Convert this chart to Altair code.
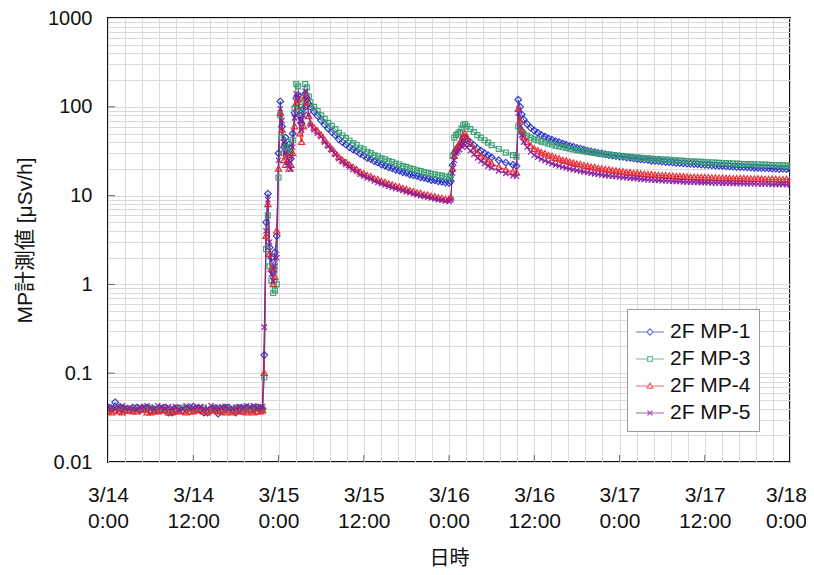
import altair as alt
import pandas as pd

series_names = ["2F MP-1", "2F MP-3", "2F MP-4", "2F MP-5"]
series_colors = ["#2a36c4", "#3a9e74", "#e8262c", "#8a1e9e"]

# hours after 3/14 0:00
hours = [
    0, 0.5, 1, 1.5, 2, 2.5, 3, 3.5, 4, 4.5, 5,
    5.5, 6, 6.5, 7, 7.5, 8, 8.5, 9, 9.5, 10, 10.5,
    11, 11.5, 12, 12.5, 13, 13.5, 14, 14.5, 15, 15.5, 16,
    16.5, 17, 17.5, 18, 18.5, 19, 19.5, 20, 20.5, 21, 21.5,
    21.75,
    22.0, 22.25, 22.5, 22.75, 23.0, 23.25, 23.5, 23.75, 24.0, 24.25, 24.5, 24.75, 25.0,
    25.25, 25.5, 25.75, 26.0, 26.25, 26.5, 26.75, 27.0, 27.25, 27.5, 27.75, 28.0, 28.25,
    28.5, 29.0, 29.5, 30.0, 30.5, 31.0, 31.5, 32.0, 32.5, 33.0, 33.5, 34.0,
    34.5, 35, 35.5, 36, 36.5, 37, 37.5, 38, 38.5, 39, 39.5, 40, 40.5, 41,
    41.5, 42, 42.5, 43, 43.5, 44, 44.5, 45, 45.5, 46, 46.5, 47, 47.5, 48,
    48.25, 48.5, 48.75, 49.0, 49.25, 49.5, 49.75, 50.0, 50.25, 50.5, 51, 51.5, 52, 52.5,
    53, 53.5, 54, 55, 56, 57, 57.5,
    57.75, 58.0, 58.25, 58.5, 59, 59.5, 60,
    60.5, 61, 61.5, 62, 62.5, 63, 63.5, 64, 64.5, 65, 65.5, 66, 66.5, 67, 67.5, 68, 68.5, 69,
    69.5, 70, 70.5, 71, 71.5, 72, 72.5, 73, 73.5, 74, 74.5, 75, 75.5, 76, 76.5, 77, 77.5, 78,
    78.5, 79, 79.5, 80, 80.5, 81, 81.5, 82, 82.5, 83, 83.5, 84, 84.5, 85, 85.5, 86, 86.5, 87,
    87.5, 88, 88.5, 89, 89.5, 90, 90.5, 91, 91.5, 92, 92.5, 93, 93.5, 94, 94.5, 95, 95.5, 96,
]

mp1 = [
    0.041, 0.040, 0.047, 0.041, 0.040, 0.039, 0.039, 0.041, 0.041, 0.038, 0.040,
    0.041, 0.038, 0.039, 0.039, 0.040, 0.041, 0.036, 0.036, 0.040, 0.040, 0.038,
    0.039, 0.041, 0.042, 0.040, 0.038, 0.036, 0.036, 0.039, 0.040, 0.035, 0.039,
    0.041, 0.041, 0.038, 0.036, 0.040, 0.040, 0.041, 0.039, 0.040, 0.041, 0.039,
    0.040,
    0.16, 5.0, 10.5, 2.6, 2.0, 1.4, 2.3, 3.5, 30, 115, 60, 35, 45,
    30, 38, 26, 50, 85, 125, 135, 80, 65, 95, 140, 125, 108,
    100, 88, 79, 70, 63, 57, 52, 48, 43, 40, 37.5, 35,
    33.0, 31.8, 29.6, 28.2, 26.5, 25.7, 24.3, 23.5, 22.4, 21.7, 20.8, 20.3, 19.5, 19.1,
    18.3, 18.0, 17.3, 16.9, 16.6, 16.1, 15.8, 15.4, 15.0, 14.9, 14.5, 14.3, 14.0, 13.9,
    14.5, 22, 30, 32, 35, 36, 40, 44, 45, 43, 40, 37, 34, 32,
    30, 28.5, 27, 25, 23.5, 22.2, 21.5,
    120, 100, 82, 72, 64, 58, 54,
    51.0, 48.0, 46.2, 44.0, 42.6, 41.0, 39.9, 38.5, 37.4, 36.2, 35.4, 34.4, 33.7, 32.8, 32.1, 31.4, 30.9, 30.2,
    29.8, 29.2, 28.6, 28.3, 27.9, 27.5, 27.3, 26.8, 26.6, 26.2, 25.8, 25.6, 25.4, 25.1, 24.7, 24.6, 24.5, 24.2,
    23.9, 23.8, 23.7, 23.4, 23.2, 23.1, 22.9, 22.8, 22.7, 22.5, 22.3, 22.2, 22.1, 21.9, 21.8, 21.7, 21.6, 21.4,
    21.3, 21.2, 21.0, 21.0, 20.9, 20.8, 20.7, 20.6, 20.5, 20.4, 20.4, 20.3, 20.1, 20.1, 19.9, 20.0, 19.9, 19.8,
]

mp3 = [
    0.039, 0.040, 0.040, 0.041, 0.041, 0.039, 0.038, 0.040, 0.040, 0.039, 0.039,
    0.040, 0.041, 0.039, 0.039, 0.040, 0.040, 0.038, 0.038, 0.040, 0.039, 0.041,
    0.040, 0.040, 0.039, 0.040, 0.040, 0.041, 0.038, 0.039, 0.041, 0.040, 0.039,
    0.040, 0.040, 0.038, 0.041, 0.041, 0.039, 0.040, 0.040, 0.041, 0.040, 0.040,
    0.039,
    0.09, 2.5, 6.0, 1.6, 1.1, 0.8, 0.85, 1.0, 16, 80, 45, 30, 35,
    40, 32, 30, 42, 95, 180, 170, 100, 85, 125, 180, 165, 130,
    112, 100, 90, 80, 73, 66, 61, 56, 51, 47.5, 44.5, 41.5,
    39.0, 37.3, 34.6, 33.2, 31.2, 30.1, 28.4, 27.6, 26.2, 25.6, 24.5, 23.9, 22.9, 22.4,
    21.5, 21.1, 20.3, 19.9, 19.2, 18.9, 18.3, 18.0, 17.6, 17.3, 16.9, 16.8, 16.4, 16.2,
    17, 28, 45, 48, 50, 52, 57, 62, 64, 60, 56, 52, 48, 45,
    42, 39.5, 37, 33.5, 30.5, 28.5, 27.5,
    60, 55, 52, 50, 47, 45, 43,
    41.9, 40.5, 39.6, 38.5, 37.6, 36.5, 35.9, 35.0, 34.4, 33.7, 33.2, 32.5, 32.1, 31.5, 31.1, 30.6, 30.3, 29.8,
    29.5, 29.1, 28.9, 28.5, 28.3, 28.0, 27.8, 27.5, 27.3, 27.0, 26.9, 26.6, 26.5, 26.2, 26.1, 25.8, 25.7, 25.5,
    25.4, 25.2, 25.1, 24.9, 24.8, 24.6, 24.5, 24.3, 24.2, 24.1, 24.0, 23.8, 23.7, 23.6, 23.5, 23.4, 23.3, 23.2,
    23.1, 23.0, 22.9, 22.8, 22.7, 22.6, 22.6, 22.5, 22.4, 22.3, 22.3, 22.2, 22.1, 22.0, 22.0, 21.9, 21.8, 21.7,
]

mp4 = [
    0.037, 0.036, 0.038, 0.037, 0.036, 0.038, 0.038, 0.037, 0.037, 0.039, 0.039,
    0.036, 0.036, 0.037, 0.037, 0.038, 0.038, 0.036, 0.036, 0.037, 0.037, 0.038,
    0.036, 0.037, 0.037, 0.038, 0.039, 0.037, 0.036, 0.038, 0.038, 0.037, 0.037,
    0.036, 0.038, 0.036, 0.038, 0.037, 0.037, 0.036, 0.038, 0.036, 0.037, 0.037,
    0.038,
    0.10, 3.5, 8.0, 2.2, 1.5, 1.0, 1.2, 4.0, 20, 85, 55, 25, 22,
    28, 20, 22, 30, 60, 110, 120, 50, 40, 60, 130, 110, 78,
    65, 58, 53, 48, 42, 37, 33.5, 30, 27, 25, 23.5, 22,
    20.8, 19.6, 18.3, 17.6, 16.8, 16.3, 15.5, 15.1, 14.4, 14.1, 13.5, 13.2, 12.7, 12.5,
    12.0, 11.7, 11.3, 11.1, 10.7, 10.6, 10.2, 10.1, 9.8, 9.7, 9.4, 9.3, 9.1, 9.0,
    9.5, 20, 28, 33, 36, 38, 42, 47, 50, 45, 38, 33, 30, 27.5,
    25.5, 24, 23, 21, 19.5, 18.5, 18,
    95, 70, 55, 46, 40, 36, 33.5,
    32.0, 30.5, 29.6, 28.3, 27.6, 26.5, 26.0, 25.0, 24.5, 23.7, 23.3, 22.6, 22.3, 21.7, 21.4, 20.9, 20.7, 20.2,
    20.0, 19.6, 19.5, 19.1, 18.9, 18.6, 18.5, 18.2, 18.1, 17.8, 17.8, 17.5, 17.4, 17.2, 17.2, 17.0, 16.9, 16.8,
    16.8, 16.6, 16.5, 16.4, 16.4, 16.3, 16.2, 16.1, 16.1, 16.0, 16.0, 15.9, 15.9, 15.8, 15.8, 15.7, 15.7, 15.6,
    15.6, 15.5, 15.5, 15.5, 15.5, 15.4, 15.3, 15.3, 15.4, 15.3, 15.2, 15.2, 15.3, 15.2, 15.1, 15.1, 15.2, 15.1,
]

mp5 = [
    0.042, 0.041, 0.040, 0.042, 0.043, 0.041, 0.041, 0.040, 0.039, 0.042, 0.042,
    0.043, 0.041, 0.040, 0.043, 0.042, 0.040, 0.042, 0.041, 0.042, 0.039, 0.040,
    0.043, 0.041, 0.041, 0.042, 0.042, 0.040, 0.040, 0.043, 0.041, 0.041, 0.042,
    0.042, 0.040, 0.040, 0.041, 0.042, 0.041, 0.043, 0.042, 0.043, 0.041, 0.042,
    0.042,
    0.33, 4.0, 9.0, 3.0, 1.3, 1.1, 1.6, 2.0, 25, 95, 70, 40, 30,
    22, 25, 20, 35, 75, 140, 135, 70, 55, 80, 150, 125, 82,
    62, 55, 50, 46, 40, 36, 32.5, 29, 26, 24, 22.5, 21,
    19.6, 18.7, 17.3, 16.6, 15.8, 15.4, 14.6, 14.1, 13.6, 13.2, 12.7, 12.4, 12.0, 11.8,
    11.4, 11.1, 10.8, 10.5, 10.2, 10.0, 9.8, 9.6, 9.4, 9.2, 9.0, 8.9, 8.7, 8.6,
    9.0, 18, 25, 30, 31, 33, 36, 38, 37, 35, 32, 29, 26.5, 24.5,
    23, 21.5, 20.5, 19, 17.8, 16.8, 16.5,
    85, 60, 48, 40, 35, 31, 28.5,
    27.0, 25.8, 24.7, 23.8, 22.9, 22.2, 21.6, 21.0, 20.5, 20.0, 19.6, 19.2, 18.8, 18.5, 18.2, 17.9, 17.6, 17.4,
    17.1, 16.9, 16.7, 16.5, 16.4, 16.2, 16.0, 15.9, 15.7, 15.6, 15.5, 15.3, 15.2, 15.1, 15.0, 14.9, 14.8, 14.7,
    14.7, 14.6, 14.5, 14.4, 14.4, 14.3, 14.2, 14.2, 14.2, 14.1, 14.0, 14.0, 14.0, 13.9, 13.9, 13.9, 13.8, 13.8,
    13.8, 13.7, 13.7, 13.7, 13.6, 13.6, 13.6, 13.6, 13.5, 13.5, 13.5, 13.5, 13.4, 13.4, 13.4, 13.4, 13.3, 13.3,
]

x_tick_hours = [0, 12, 24, 36, 48, 60, 72, 84, 96]
x_tick_labels = [["3/14", "0:00"], ["3/14", "12:00"], ["3/15", "0:00"], ["3/15", "12:00"],
                 ["3/16", "0:00"], ["3/16", "12:00"], ["3/17", "0:00"], ["3/17", "12:00"],
                 ["3/18", "0:00"]]
y_tick_values = [1000, 100, 10, 1, 0.1, 0.01]
y_tick_labels = ["1000", "100", "10", "1", "0.1", "0.01"]

for vals in (mp1, mp3, mp4, mp5):
    assert len(vals) == len(hours), (len(vals), len(hours))

rows = []
for name, vals in zip(series_names, [mp1, mp3, mp4, mp5]):
    for h, v in zip(hours, vals):
        rows.append({"series": name, "hour": h, "value": v})
df = pd.DataFrame(rows)

# grid positions (Excel-like minor unit 0.1 day = 2.4 h; log minor 2..9)
x_grid = [round(2.4 * i, 4) for i in range(41)]
y_grid = [round(m * 10.0 ** k, 6) for k in range(-2, 3) for m in range(1, 10)] + [1000]

x_expr = "".join(f"datum.value == {h} ? ['{a}', '{b}'] : " for h, (a, b) in zip(x_tick_hours, x_tick_labels)) + "''"
y_expr = "".join(f"datum.value == {v} ? '{s}' : " for v, s in zip(y_tick_values, y_tick_labels)) + "''"

FONT = "Liberation Sans, Arial, Noto Sans CJK JP"

marker_paths = [
    "M0,-1L1,0L0,1L-1,0Z",
    "M-0.75,-0.75H0.75V0.75H-0.75Z",
    "M0,-0.95L0.95,0.7H-0.95Z",
    "M-0.8,-0.8L0.8,0.8M-0.8,0.8L0.8,-0.8",
]
legend_paths = [
    "M-1,0H-0.22M0.22,0H1M0,-0.22L0.22,0L0,0.22L-0.22,0Z",
    "M-1,0H-0.17M0.17,0H1M-0.17,-0.17H0.17V0.17H-0.17Z",
    "M-1,0H-0.13M0.13,0H1M0,-0.21L0.21,0.15H-0.21Z",
    "M-1,0H1M-0.18,-0.18L0.18,0.18M-0.18,0.18L0.18,-0.18",
]

x_enc = alt.X("hour:Q", scale=alt.Scale(domain=[0, 96], nice=False, zero=False),
              axis=alt.Axis(values=x_grid, labelExpr=x_expr, grid=True, gridColor="#dadada",
                            ticks=False, domain=False, labelOverlap=False, labelBound=False,
                            labelFlush=False,
                            labelOffset=alt.condition("datum.value == 96", alt.value(-4), alt.value(0)),
                            labelFont=FONT, labelFontSize=21, labelColor="#111",
                            labelPadding=22, labelLineHeight=26, labelBaseline="top",
                            title="日時", titleFont=FONT, titleFontSize=20,
                            titleFontWeight="normal", titleColor="#111",
                            titleY=96, titleBaseline="middle"))
y_enc = alt.Y("value:Q", scale=alt.Scale(type="log", domain=[0.01, 1000], nice=False),
              axis=alt.Axis(values=y_grid, labelExpr=y_expr, grid=True, gridColor="#dadada",
                            ticks=False, domain=False, labelOverlap=False, labelBound=False,
                            labelFlush=False,
                            labelFont=FONT, labelFontSize=20, labelColor="#111",
                            labelPadding=16,
                            title="MP計測値 [μSv/h]", titleFont=FONT, titleFontSize=21,
                            titleFontWeight="normal", titleColor="#111",
                            titleX=-83, titleY=222, titleBaseline="middle"))

color_scale = alt.Scale(domain=series_names, range=series_colors)

lines = alt.Chart(df).mark_line(strokeWidth=1, clip=True).encode(
    x=x_enc, y=y_enc,
    color=alt.Color("series:N", scale=color_scale, legend=None),
    detail="series:N",
)

points = alt.Chart(df).mark_point(filled=False, size=44, strokeWidth=1.2, opacity=0.95, clip=True).encode(
    x=x_enc, y=y_enc,
    color=alt.Color("series:N", scale=color_scale, legend=None),
    shape=alt.Shape("series:N", scale=alt.Scale(domain=series_names, range=marker_paths), legend=None),
)

# small inward tick marks on the frame (major positions)
x_ticks = alt.Chart(pd.DataFrame({"hour": x_tick_hours[1:-1]})).mark_tick(
    orient="vertical", size=7, thickness=1, color="#333"
).encode(x=x_enc, y=alt.value(440.5))
y_ticks = alt.Chart(pd.DataFrame({"value": y_tick_values[1:-1]})).mark_tick(
    orient="horizontal", size=7, thickness=1, color="#333"
).encode(y=y_enc, x=alt.value(3.5))

leg = alt.Legend(title=None, orient="none", legendX=519, legendY=291,
                 fillColor="white", strokeColor="#9a9a9a", padding=8,
                 symbolSize=784, symbolStrokeWidth=1.2, symbolType="circle",
                 labelFont=FONT, labelFontSize=21, labelColor="#111",
                 labelOffset=5, rowPadding=2, labelLimit=300)

legend_layer = alt.Chart(df).transform_filter("false").mark_point(filled=False).encode(
    x=x_enc, y=y_enc,
    color=alt.Color("series:N", scale=alt.Scale(domain=series_names, range=series_colors), legend=leg),
    shape=alt.Shape("series:N", scale=alt.Scale(domain=series_names, range=legend_paths), legend=leg),
)

chart = alt.layer(lines, points, x_ticks, y_ticks, legend_layer).resolve_scale(
    color="independent", shape="independent"
).properties(
    width=682, height=444,
    autosize=alt.AutoSizeParams(type="none"),
    padding={"left": 100, "top": 10, "right": 16, "bottom": 105},
    background="white",
).configure_view(stroke="#111", strokeWidth=2)

chart.save("out.html", embed_options={"renderer": "svg", "actions": False})
